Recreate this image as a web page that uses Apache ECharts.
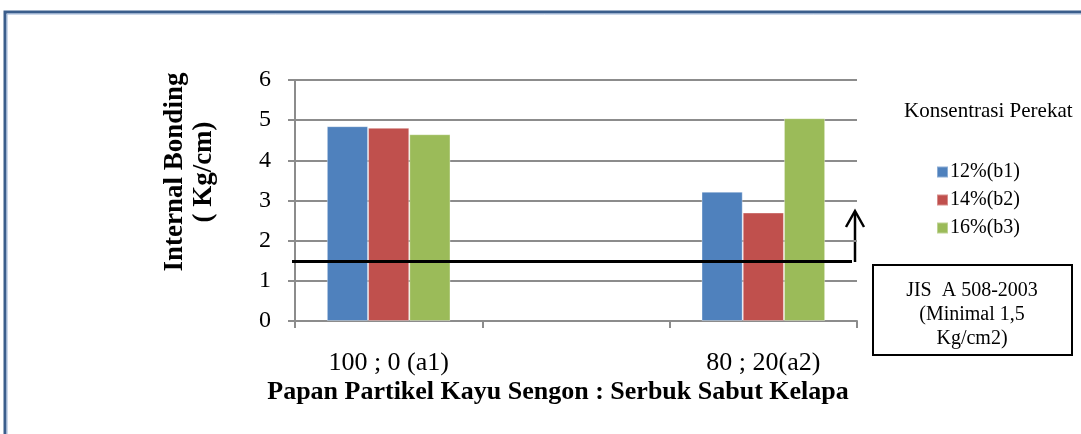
<!DOCTYPE html>
<html><head><meta charset="utf-8">
<script src="https://cdn.jsdelivr.net/npm/echarts@6/dist/echarts.min.js"></script>
<style>html,body{margin:0;padding:0;background:#fff}#c{width:1081px;height:434px}</style>
</head><body><div id="c"></div>
<script>
const categories = ['100 ; 0 (a1)', '', '80 ; 20(a2)'];
const seriesNames = ['12%(b1)', '14%(b2)', '16%(b3)'];
const b1 = [4.85, null, 3.22];
const b2 = [4.81, null, 2.70];
const b3 = [4.65, null, 5.05];
const yTicks = [0, 1, 2, 3, 4, 5, 6];
const standardMin = 1.5;

const F = 'Liberation Serif, Times New Roman, serif';
const colors = ['#4F81BD', '#C0504D', '#9BBB59'];
const chart = echarts.init(document.getElementById('c'));
const data = [b1, b2, b3];
chart.setOption({
  animation: false,
  grid: {left: 295, right: 224, top: 80, bottom: 113},
  title: {text: 'Konsentrasi Perekat', left: 899, top: 96,
    textStyle: {fontFamily: F, fontSize: 21, fontWeight: 'normal', color: '#000'}},
  legend: {orient: 'vertical', left: 931, top: 157, itemWidth: 11, itemHeight: 11, itemGap: 8,
    icon: 'rect', data: seriesNames,
    textStyle: {fontFamily: F, fontSize: 20, color: '#000', padding: [0, 0, 0, -3]}},
  xAxis: {type: 'category', data: categories,
    axisLine: {lineStyle: {color: '#8c8c8c', width: 2}},
    axisTick: {show: true, length: 7, lineStyle: {color: '#8c8c8c', width: 2}},
    axisLabel: {fontFamily: F, fontSize: 26, color: '#000', margin: 29}},
  yAxis: {type: 'value', min: yTicks[0], max: yTicks[yTicks.length - 1], interval: 1,
    axisLine: {show: true, lineStyle: {color: '#8c8c8c', width: 2}},
    axisTick: {show: true, length: 7, lineStyle: {color: '#8c8c8c', width: 2}},
    splitLine: {lineStyle: {color: '#8c8c8c', width: 2}},
    axisLabel: {fontFamily: F, fontSize: 24, color: '#000', margin: 24}},
  series: seriesNames.map((n, i) => ({
    name: n, type: 'bar', data: data[i], barGap: '0%', barCategoryGap: '34%',
    itemStyle: {color: colors[i], borderColor: 'rgba(255,255,255,0.35)', borderWidth: 1},
    markLine: i === 0 ? {symbol: 'none', silent: true, label: {show: false},
      lineStyle: {color: '#000', width: 3, type: 'solid'},
      data: [[{xAxis: 0, yAxis: standardMin, x: 292}, {yAxis: standardMin, x: 852}]]} : undefined
  })),
  graphic: [
    {type: 'rect', shape: {x: 5, y: 12, width: 1100, height: 450}, silent: true,
      style: {fill: 'none', stroke: '#3B5E8C', lineWidth: 3}},
    {type: 'rect', shape: {x: 7, y: 14, width: 1100, height: 450}, silent: true,
      style: {fill: 'none', stroke: '#9BB3D6', lineWidth: 1}},
    {type: 'text', x: 190, y: 172, rotation: Math.PI / 2, silent: true,
      style: {text: 'Internal Bonding\n( Kg/cm)', font: 'bold 27px ' + F, fill: '#000',
        textAlign: 'center', textVerticalAlign: 'middle', lineHeight: 29}},
    {type: 'text', x: 558, y: 392, silent: true,
      style: {text: 'Papan Partikel Kayu Sengon : Serbuk Sabut Kelapa', font: 'bold 26px ' + F,
        fill: '#000', textAlign: 'center', textVerticalAlign: 'middle'}},
    {type: 'line', shape: {x1: 855, y1: 262, x2: 855, y2: 212}, silent: true,
      style: {stroke: '#000', lineWidth: 2.5}},
    {type: 'polyline', shape: {points: [[846, 227], [855, 211], [864, 227]]}, silent: true,
      style: {stroke: '#000', lineWidth: 2.5, fill: 'none'}},
    {type: 'rect', shape: {x: 873, y: 265, width: 199, height: 90}, silent: true,
      style: {fill: '#fff', stroke: '#000', lineWidth: 2}},
    {type: 'text', x: 972, y: 315, silent: true,
      style: {text: 'JIS  A 508-2003\n(Minimal 1,5\nKg/cm2)', font: '20px ' + F, fill: '#000',
        textAlign: 'center', textVerticalAlign: 'middle', lineHeight: 24}}
  ]
});
</script></body></html>
